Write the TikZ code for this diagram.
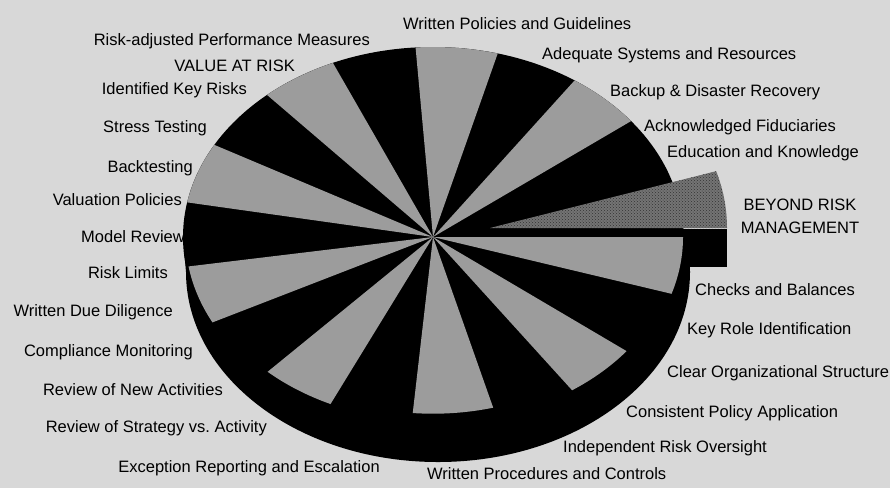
\documentclass[tikz,border=0pt]{standalone}
\usepackage{fontspec}
\setsansfont{Liberation Sans}
\usepackage{tikz}
\usetikzlibrary{calc,patterns}
\definecolor{paper}{HTML}{D8D8D8}
\definecolor{wedgegray}{HTML}{9C9C9C}
\definecolor{hatchgray}{HTML}{747474}
\newlength{\PieFigureUnit}
\setlength{\PieFigureUnit}{1pt}
\newcommand{\PieLabelFont}{\fontsize{16.5pt}{23pt}\selectfont\sffamily\frenchspacing}

\begin{document}
\begin{tikzpicture}[x=\PieFigureUnit,y=\PieFigureUnit]
    \tikzset{
        pie label/.style={font=\PieLabelFont, text=black, inner sep=0pt},
        pie body/.style={fill=black},
        pie wedge/.style={fill=wedgegray},
        pie beyond/.style={fill=hatchgray,
            postaction={pattern=crosshatch dots, pattern color=black!80}}
    }
    \fill[paper] (0,0) rectangle (890,-488);
    \useasboundingbox (0,0) rectangle (890,-488);
    \coordinate (pie-center) at (433,-237);
    \coordinate (pie-base) at (438,-272);
    \coordinate (beyond-tip) at (490,-228);

    % top face and side of the pie
    \fill[pie body] (pie-center) ellipse[x radius=250, y radius=190];
    \fill[pie body] (pie-base) ellipse[x radius=252, y radius=190];
    \fill[pie body] (183,-237) -- (683,-237) -- (690,-272) -- (186,-272) -- cycle;
    \fill[pie body] (683,-229) rectangle (727,-267);

    \foreach \tstart/\tend/\rad in {75/94/1, 37.6/55.5/1, -17.4/0/1,
            -55.4/-37.8/0.98, -95/-75/0.93, -133/-115/0.97,
            -171/-153/0.99, 151/169.5/1, 113.6/131.6/1} {
        \pgfmathsetmacro{\ra}{250*\rad}
        \pgfmathsetmacro{\rb}{190*\rad}
        \fill[pie wedge] (pie-center) -- ++({\ra*cos(\tstart)},{\rb*sin(\tstart)})
            arc[start angle=\tstart, end angle=\tend, x radius=\ra, y radius=\rb]
            -- cycle;
    }
    \fill[pie beyond] (beyond-tip) -- ++(237,0)
        arc[start angle=0, end angle=17.4, x radius=237, y radius=190] -- cycle;

    % labels on the left
    \foreach \lx/\ly/\ltext [count=\i] in {
            370/41/Risk-adjusted Performance Measures,
            295/66/VALUE AT RISK,
            247/90/Identified Key Risks,
            207/128/Stress Testing,
            193/168/Backtesting,
            182/200/Valuation Policies,
            185/237/Model Review,
            168/273/Risk Limits,
            173/312/Written Due Diligence,
            193/352/Compliance Monitoring,
            223/390/Review of New Activities,
            267/428/Review of Strategy vs. Activity,
            380/468/Exception Reporting and Escalation} {
        \node[pie label, anchor=east] (left-label-\i) at (\lx,-\ly) {\ltext};
    }
    % labels on the right
    \foreach \lx/\ly/\ltext [count=\i] in {
            403/24/Written Policies and Guidelines,
            542/55/Adequate Systems and Resources,
            610/92/Backup \& Disaster Recovery,
            644/127/Acknowledged Fiduciaries,
            667/153/Education and Knowledge,
            695/290/Checks and Balances,
            687/330/Key Role Identification,
            667/373/Clear Organizational Structure,
            626/413/Consistent Policy Application,
            563/448/Independent Risk Oversight,
            427/474/Written Procedures and Controls} {
        \node[pie label, anchor=west] (right-label-\i) at (\lx,-\ly) {\ltext};
    }
    \node[pie label, align=center] (beyond-label) at (800,-216)
        {BEYOND RISK\\MANAGEMENT};
\end{tikzpicture}
\end{document}
